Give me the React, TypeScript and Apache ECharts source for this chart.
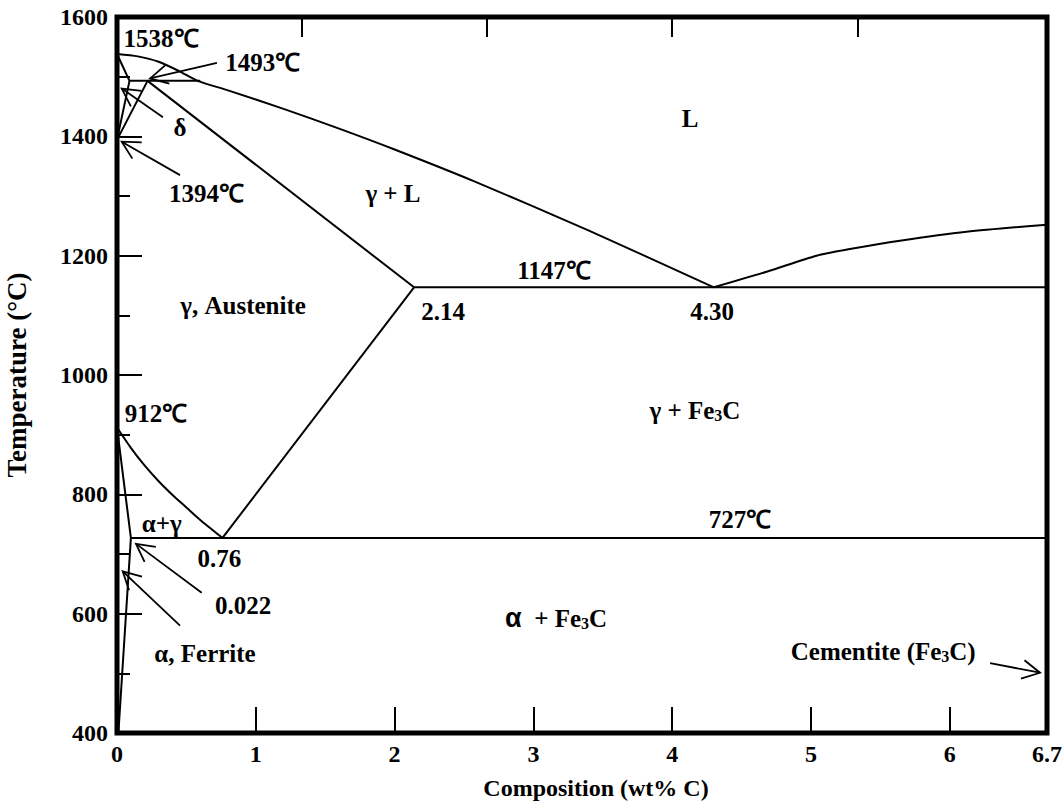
import React, { useEffect, useRef } from 'react';
import * as echarts from 'echarts';

const FONT = '"Liberation Serif", "Times New Roman", serif';

// Axis ticks / labels
const xLabelValues = [0, 1, 2, 3, 4, 5, 6, 6.7];
const xTickValues = [1, 2, 3, 4, 5, 6];
const topTickValues = [4 / 3, 8 / 3, 4, 16 / 3];

// Phase boundaries (wt% C, °C)
const liquidusLeft = [[0, 1538], [0.15, 1534], [0.3, 1525], [0.45, 1509], [0.58, 1493], [0.8, 1477], [1.2, 1446], [1.6, 1413], [2.0, 1378], [2.57, 1325], [3.4, 1242], [4.3, 1147]];
const liquidusRight = [[4.3, 1147], [4.68, 1173], [5.04, 1200], [5.28, 1211], [5.64, 1225], [6.12, 1240], [6.7, 1252]];
const a3Line = [[0, 912], [0.1, 878], [0.2, 848], [0.3, 822], [0.4, 799], [0.5, 778], [0.6, 757], [0.7, 738], [0.76, 727]];
const deltaSolidus = [[0, 1538], [0.09, 1493]];
const deltaSolvus = [[0.09, 1493], [0, 1394]];
const gammaDelta = [[0, 1394], [0.22, 1493]];
const peritectic = [[0.09, 1493], [0.6, 1493]];
const gammaSolidus = [[0.22, 1493], [2.14, 1147]];
const eutectic = [[2.14, 1147], [6.7, 1147]];
const acmLine = [[0.76, 727], [2.14, 1147]];
const alphaSolvus = [[0, 912], [0.1, 727], [0.01, 400]];
const eutectoid = [[0.1, 727], [6.7, 727]];

// Text annotations
const labelText = ['1538℃', '1493℃', 'δ', '1394℃', 'L', 'γ + L', 'γ, Austenite', '2.14', '1147℃', '4.30', '912℃', 'γ + Fe3C', 'α+γ', '727℃', '0.76', '0.022', 'α  + Fe3C', 'α, Ferrite', 'Cementite (Fe3C)'];
const labelX = [0.317, 1.05, 0.454, 0.645, 4.128, 1.988, 0.908, 2.349, 3.148, 4.287, 0.281, 4.164, 0.322, 4.488, 0.738, 0.908, 3.163, 0.634, 5.52];
const labelY = [1564, 1524, 1415, 1305, 1430, 1305, 1116, 1107, 1175, 1107, 936, 940, 751, 757, 692, 613, 592, 533, 536];

// Arrows: tail -> tip
const arrowTail = [[0.72, 1523], [0.331, 1432], [0.454, 1335], [0.61, 635], [0.454, 580], [6.29, 517]];
const arrowTip = [[0.238, 1497], [0.034, 1480], [0.034, 1391], [0.137, 717], [0.041, 671], [6.65, 501]];

function richify(t: string): string {
  let prefix = '';
  let body = t;
  if (t.startsWith('α  +')) {
    prefix = '{g|α}';
    body = t.slice(1);
  }
  const parts = body.split('Fe3C');
  let out = prefix;
  parts.forEach((p, i) => {
    if (p) out += `{n|${p}}`;
    if (i < parts.length - 1) out += '{n|Fe}{s|3}{n|C}';
  });
  return out;
}

export default function App() {
  const ref = useRef<HTMLDivElement>(null);
  useEffect(() => {
    if (!ref.current) return;
    const chart = echarts.init(ref.current, undefined, { renderer: 'svg' });
    const lineSeries = (data: number[][], smooth: boolean | number = false) => ({
      type: 'line',
      data,
      showSymbol: false,
      symbol: 'none',
      smooth,
      silent: true,
      lineStyle: { color: '#000', width: 2 },
      z: 3,
    });
    const richStyles = {
      n: { fontFamily: FONT, fontWeight: 'bold', fontSize: 25, fill: '#000' },
      s: { fontFamily: FONT, fontWeight: 'bold', fontSize: 16, fill: '#000', verticalAlign: 'bottom' },
      g: { fontFamily: '"Liberation Sans", Arial, sans-serif', fontWeight: 'bold', fontSize: 27, fill: '#000' },
    };
    chart.setOption({
      animation: false,
      backgroundColor: '#fff',
      grid: {
        left: 117, right: 17, top: 17, bottom: 79,
        outerBoundsMode: 'none',
        containLabel: false,
        show: true, borderColor: '#000', borderWidth: 5, backgroundColor: 'transparent',
      },
      xAxis: [
        {
          type: 'value', min: 0, max: 6.7, position: 'bottom',
          axisLine: { show: false },
          splitLine: { show: false },
          axisTick: { show: true, inside: true, length: 26, customValues: xTickValues, lineStyle: { color: '#000', width: 2 } },
          axisLabel: { customValues: xLabelValues, color: '#000', fontFamily: FONT, fontWeight: 'bold', fontSize: 24, margin: 9 },
          name: 'Composition (wt% C)', nameLocation: 'middle', nameGap: 43,
          nameTextStyle: { color: '#000', fontFamily: FONT, fontWeight: 'bold', fontSize: 24, padding: [0, 0, 0, 28] },
        },
        {
          type: 'value', min: 0, max: 6.7, position: 'top',
          axisLine: { show: false },
          splitLine: { show: false },
          axisTick: { show: true, inside: true, length: 20, customValues: topTickValues, lineStyle: { color: '#000', width: 2 } },
          axisLabel: { show: false },
        },
      ],
      yAxis: {
        type: 'value', min: 400, max: 1600, interval: 200,
        axisLine: { show: false },
        splitLine: { show: false },
        axisTick: { show: true, inside: true, length: 25, lineStyle: { color: '#000', width: 2 } },
        minorTick: { show: true, splitNumber: 2, length: 13, lineStyle: { color: '#000', width: 2 } },
        minorSplitLine: { show: false },
        axisLabel: { color: '#000', fontFamily: FONT, fontWeight: 'bold', fontSize: 24, margin: 9, formatter: (v: number) => String(v) },
        name: 'Temperature (°C)', nameLocation: 'middle', nameGap: 87,
        nameTextStyle: { color: '#000', fontFamily: FONT, fontWeight: 'bold', fontSize: 27 },
      },
      series: [
        lineSeries(liquidusLeft, 0.25),
        lineSeries(liquidusRight, 0.25),
        lineSeries(a3Line, 0.3),
        lineSeries(deltaSolidus),
        lineSeries(deltaSolvus),
        lineSeries(gammaDelta),
        lineSeries(peritectic),
        lineSeries(gammaSolidus),
        lineSeries(eutectic),
        lineSeries(acmLine),
        lineSeries(alphaSolvus),
        lineSeries(eutectoid),
        {
          type: 'custom',
          silent: true,
          z: 4,
          data: arrowTail.map((t, i) => [t[0], t[1], arrowTip[i][0], arrowTip[i][1]]),
          renderItem: (params: any, api: any) => {
            const tail = api.coord([api.value(0), api.value(1)]);
            const tip = api.coord([api.value(2), api.value(3)]);
            const ang = Math.atan2(tail[1] - tip[1], tail[0] - tip[0]);
            const L = 20;
            const a = (28 * Math.PI) / 180;
            const w1 = [tip[0] + L * Math.cos(ang + a), tip[1] + L * Math.sin(ang + a)];
            const w2 = [tip[0] + L * Math.cos(ang - a), tip[1] + L * Math.sin(ang - a)];
            return {
              type: 'group',
              children: [
                { type: 'line', shape: { x1: tail[0], y1: tail[1], x2: tip[0], y2: tip[1] }, style: { stroke: '#000', lineWidth: 1.8 } },
                { type: 'polyline', shape: { points: [w1, tip, w2] }, style: { stroke: '#000', fill: null, lineWidth: 1.8 } },
              ],
            };
          },
        },
        {
          type: 'custom',
          silent: true,
          z: 5,
          data: labelX.map((x, i) => [x, labelY[i]]),
          renderItem: (params: any, api: any) => {
            const p = api.coord([api.value(0), api.value(1)]);
            return {
              type: 'text',
              x: p[0],
              y: p[1],
              style: {
                text: richify(labelText[params.dataIndex]),
                rich: richStyles,
                fontFamily: FONT,
                fontWeight: 'bold',
                fontSize: 25,
                fill: '#000',
                align: 'center',
                verticalAlign: 'middle',
              },
            };
          },
        },
      ],
    });
    return () => chart.dispose();
  }, []);
  return <div ref={ref} style={{ position: 'absolute', left: 0, top: 0, width: 1064, height: 812 }} />;
}
